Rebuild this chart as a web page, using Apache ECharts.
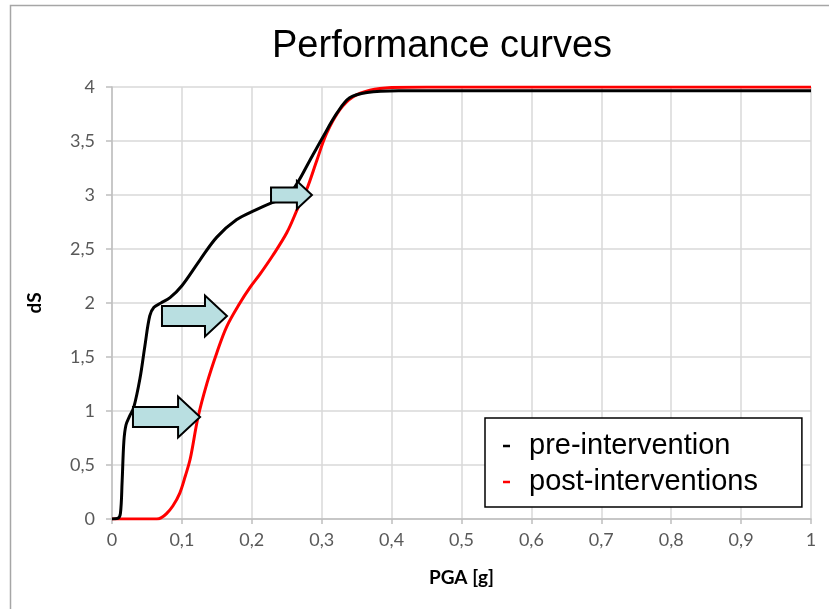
<!DOCTYPE html>
<html>
<head>
<meta charset="utf-8">
<script src="https://cdn.jsdelivr.net/npm/echarts@6/dist/echarts.min.js"></script>
<style>
  html, body { margin: 0; padding: 0; background: #fff; }
  #chart { width: 829px; height: 609px; }
</style>
</head>
<body>
<div id="chart"></div>
<script>
// Damage state (dS) versus peak ground acceleration, before and after interventions
const preIntervention = [
  [0, 0], [0.008, 0.005], [0.012, 0.05], [0.0145, 0.35], [0.017, 0.72], [0.02, 0.87],
  [0.025, 0.95], [0.031, 1.03], [0.04, 1.3], [0.047, 1.6], [0.054, 1.88], [0.06, 1.96],
  [0.07, 2.0], [0.083, 2.05], [0.1, 2.16], [0.126, 2.4], [0.15, 2.61], [0.178, 2.77],
  [0.205, 2.86], [0.229, 2.93], [0.25, 2.98], [0.266, 3.12], [0.283, 3.32], [0.302, 3.54],
  [0.322, 3.76], [0.34, 3.9], [0.365, 3.95], [0.41, 3.965], [0.6, 3.965], [0.8, 3.965], [1, 3.965]
];
const postInterventions = [
  [0, 0], [0.064, 0], [0.07, 0.01], [0.078, 0.05], [0.087, 0.12], [0.097, 0.24],
  [0.105, 0.4], [0.112, 0.56], [0.123, 0.94], [0.136, 1.26], [0.15, 1.54], [0.164, 1.78],
  [0.183, 2.0], [0.197, 2.14], [0.212, 2.27], [0.23, 2.44], [0.25, 2.65], [0.266, 2.88],
  [0.279, 3.06], [0.293, 3.32], [0.307, 3.57], [0.326, 3.79], [0.345, 3.91], [0.369, 3.97],
  [0.4, 3.995], [0.45, 4], [0.7, 4], [1, 4]
];
// Block arrows: [from PGA, to PGA, dS level]
const shiftArrows = [
  [0.030, 0.126, 0.944],
  [0.0715, 0.1645, 1.88],
  [0.2275, 0.286, 3.0]
];
const seriesNames = ['pre-intervention', 'post-interventions'];
const xTickLabels = ['0', '0,1', '0,2', '0,3', '0,4', '0,5', '0,6', '0,7', '0,8', '0,9', '1'];
const yTickLabels = ['0', '0,5', '1', '1,5', '2', '2,5', '3', '3,5', '4'];

// Arrow geometry in pixels: [shaft half-height, head half-height, head length]
const ARROW_SHAPE = [[10, 20.5, 22], [10, 20.5, 22], [7.5, 14, 15]];

const chart = echarts.init(document.getElementById('chart'), null, { renderer: 'canvas' });

const tickFont = { fontFamily: 'Lato', fontSize: 18, color: '#595959' };

chart.setOption({
  animation: false,
  backgroundColor: '#fff',
  title: {
    text: 'Performance curves',
    left: 272, top: 28, padding: 0,
    textStyle: { fontFamily: 'Liberation Sans', fontSize: 38, fontWeight: 'normal', color: '#000' }
  },
  graphic: [{
    type: 'rect', z: -10, silent: true,
    shape: { x: 10.5, y: 5.5, width: 900, height: 700 },
    style: { fill: 'none', stroke: '#a6a6a6', lineWidth: 1.5 }
  }],
  grid: { left: 112, right: 18, top: 87, bottom: 90, containLabel: false },
  legend: {
    data: seriesNames,
    orient: 'vertical',
    left: 485, top: 418,
    padding: [11, 44, 8, 18],
    itemGap: 2,
    icon: 'rect',
    itemWidth: 7, itemHeight: 2.5,
    backgroundColor: '#fff',
    borderColor: '#000', borderWidth: 1.5,
    textStyle: { fontFamily: 'Liberation Sans', fontSize: 29, color: '#000', lineHeight: 34, padding: [0, 0, 0, 14] }
  },
  xAxis: {
    type: 'value', min: 0, max: 1, interval: 0.1,
    name: 'PGA [g]', nameLocation: 'middle', nameGap: 49,
    nameTextStyle: { fontFamily: 'Lato', fontSize: 19, fontWeight: 'bold', color: '#000' },
    axisLine: { show: true, lineStyle: { color: '#bfbfbf', width: 1.5 } },
    axisTick: { show: true, length: 5, lineStyle: { color: '#bfbfbf', width: 1.5 } },
    axisLabel: Object.assign({ margin: 12, formatter: v => xTickLabels[Math.round(v * 10)] }, tickFont),
    splitLine: { show: true, lineStyle: { color: '#d9d9d9', width: 1.5 } }
  },
  yAxis: {
    type: 'value', min: 0, max: 4, interval: 0.5,
    name: 'dS', nameLocation: 'middle', nameGap: 68, nameRotate: 90,
    nameTextStyle: { fontFamily: 'Lato', fontSize: 19, fontWeight: 'bold', color: '#000' },
    axisLine: { show: true, lineStyle: { color: '#bfbfbf', width: 1.5 } },
    axisTick: { show: true, length: 6, lineStyle: { color: '#bfbfbf', width: 1.5 } },
    axisLabel: Object.assign({ margin: 17, formatter: v => yTickLabels[Math.round(v * 2)] }, tickFont),
    splitLine: { show: true, lineStyle: { color: '#d9d9d9', width: 1.5 } }
  },
  series: [
    {
      name: seriesNames[0], type: 'line', data: preIntervention,
      showSymbol: false, smooth: 0.35, z: 3,
      itemStyle: { color: '#000' },
      lineStyle: { color: '#000', width: 3 }
    },
    {
      name: seriesNames[1], type: 'line', data: postInterventions,
      showSymbol: false, smooth: 0.35, z: 2,
      itemStyle: { color: '#ff0000' },
      lineStyle: { color: '#ff0000', width: 3 }
    },
    {
      type: 'custom', z: 5, silent: true,
      data: shiftArrows,
      renderItem: function (params, api) {
        const s = ARROW_SHAPE[params.dataIndex];
        const a = api.coord([api.value(0), api.value(2)]);
        const b = api.coord([api.value(1), api.value(2)]);
        const y = a[1], hs = s[0], hh = s[1], hl = s[2];
        const neck = b[0] - hl;
        return {
          type: 'polygon',
          shape: {
            points: [
              [a[0], y - hs], [neck, y - hs], [neck, y - hh], [b[0], y],
              [neck, y + hh], [neck, y + hs], [a[0], y + hs]
            ]
          },
          style: { fill: '#b9dfe1', stroke: '#000', lineWidth: 2, lineJoin: 'miter' }
        };
      }
    }
  ]
});
</script>
</body>
</html>
